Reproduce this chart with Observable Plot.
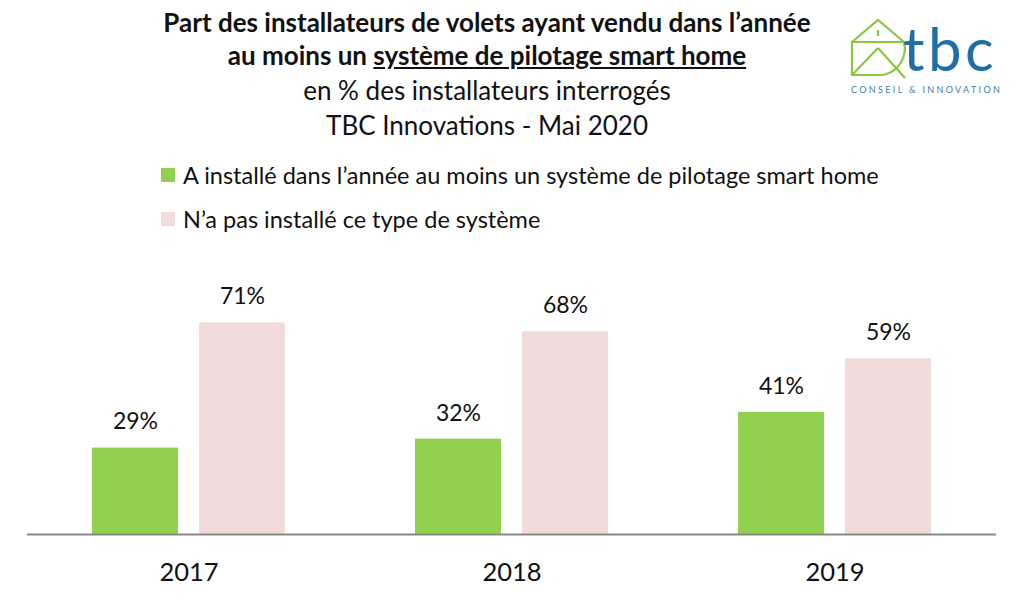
<!DOCTYPE html>
<html>
<head>
<meta charset="utf-8">
<script src="https://cdn.jsdelivr.net/npm/d3@7"></script>
<script src="https://cdn.jsdelivr.net/npm/@observablehq/plot@0.6"></script>
<style>
  html, body { margin: 0; padding: 0; background: #fff; }
  #wrap { position: relative; width: 1024px; height: 602px; overflow: hidden; font-family: Lato, "Open Sans", sans-serif; color: #111; }
  .t { position: absolute; left: 0; width: 974px; text-align: center; white-space: nowrap; line-height: 30px; }
  .title { font-weight: bold; font-size: 26px; }
  .sub { font-size: 26px; }
  .leg { position: absolute; left: 161px; font-size: 23.5px; line-height: 28px; white-space: nowrap; display: flex; align-items: center; }
  .sw { width: 14px; height: 14px; display: inline-block; margin-right: 8px; }
  #chart { position: absolute; left: 0; top: 200px; }
  #logo { position: absolute; left: 845px; top: 12px; }
</style>
</head>
<body>
<div id="wrap">
  <div class="t title" style="top:7px">Part des installateurs de volets ayant vendu dans l’année</div>
  <div class="t title" style="top:40px">au moins un <span style="text-decoration: underline;">système de pilotage smart home</span></div>
  <div class="t sub" style="top:75px">en % des installateurs interrogés</div>
  <div class="t sub" style="top:110px">TBC Innovations - Mai 2020</div>
  <div id="legend"></div>
  <div id="chart"></div>
  <svg id="logo" width="175" height="90" viewBox="0 0 175 90">
    <g fill="none" stroke="#8cc63f" stroke-width="2.2">
      <path d="M7 30 L33 8 L59 30 A 27 27 0 0 1 38 63 L7 63 Z"/>
      <line x1="7" y1="30" x2="59" y2="30"/>
      <line x1="7" y1="63" x2="33" y2="36"/>
      <line x1="33" y1="36" x2="60" y2="66"/>
      <line x1="33" y1="18" x2="33" y2="24"/>
    </g>
    <text x="58" y="59" font-family="Lato, 'Open Sans', sans-serif" font-size="60" fill="#1f6ea8" letter-spacing="3.5">tbc</text>
    <text x="6" y="80.5" font-family="Lato, 'Open Sans', sans-serif" font-size="9" fill="#3d7db5" letter-spacing="2.35">CONSEIL &amp; INNOVATION</text>
  </svg>
</div>
<script>
const years = ["2017", "2018", "2019"];
const seriesLabels = [
  "A installé dans l’année au moins un système de pilotage smart home",
  "N’a pas installé ce type de système"
];
const installed = [29, 32, 41];
const notInstalled = [71, 68, 59];
const colors = ["#92d050", "#f2dcdb"];

const data = years.flatMap((y, i) => [
  {year: y, series: seriesLabels[0], value: installed[i]},
  {year: y, series: seriesLabels[1], value: notInstalled[i]}
]);

// legend
const legend = document.getElementById("legend");
seriesLabels.forEach((s, i) => {
  const d = document.createElement("div");
  d.className = "leg";
  d.style.top = (161 + i * 44) + "px";
  d.innerHTML = `<span class="sw" style="background:${colors[i]}"></span><span>${s}</span>`;
  legend.appendChild(d);
});

const chart = Plot.plot({
  width: 1024,
  height: 402,
  marginLeft: 27,
  marginRight: 28,
  marginTop: 36,
  marginBottom: 68,
  style: {fontFamily: "Lato, 'Open Sans', sans-serif", color: "#111", background: "transparent"},
  fx: {domain: years, padding: 0, label: null},
  x: {domain: seriesLabels, paddingInner: 0.196, paddingOuter: 0.607, axis: null},
  y: {domain: [0, 100], axis: null},
  color: {domain: seriesLabels, range: colors},
  marks: [
    Plot.barY(data, {fx: "year", x: "series", y: "value", fill: "series"}),
    Plot.text(data, {fx: "year", x: "series", y: "value", text: d => d.value + "%", dy: -26, fontSize: 23, fill: "#111"}),
    Plot.ruleY([0], {stroke: "#888", strokeWidth: 2}),
    Plot.axisFx({anchor: "bottom", tickSize: 0, tickPadding: 28, fontSize: 25.5, label: null, fill: "#111"})
  ]
});
document.getElementById("chart").appendChild(chart);
</script>
</body>
</html>
